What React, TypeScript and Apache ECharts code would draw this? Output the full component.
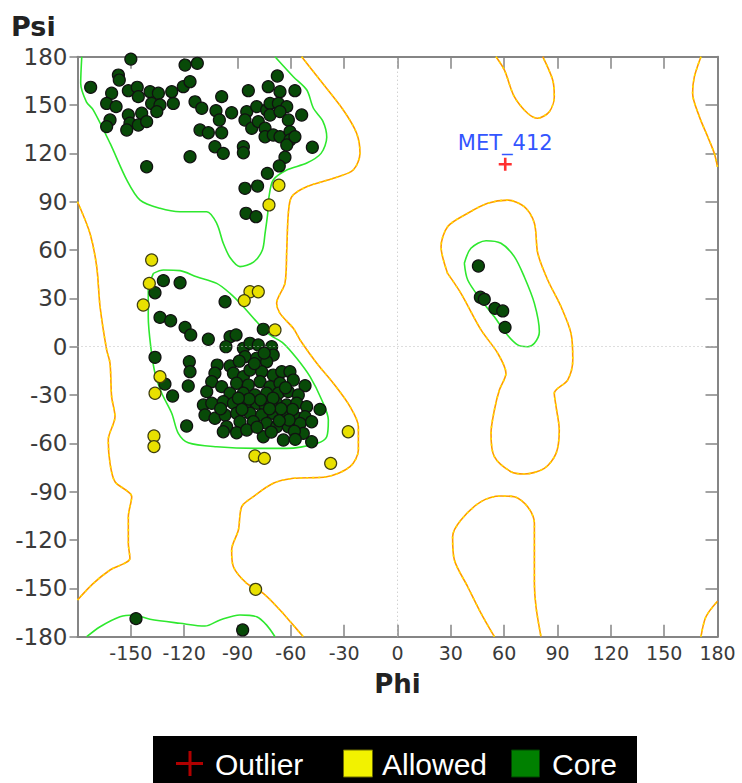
import React, { useEffect, useRef } from "react";
import * as echarts from "echarts";

// ---- Tick values ----
const axisMin = -180;
const axisMax = 180;
const axisStep = 30;

// ---- Residues (phi, psi) ----
const coreResidues: number[][] = [
  [-172.6,161],[-157,168.6],[-156.5,165.5],[-160.8,157.3],[-163.6,151],[-158.3,149],[-161.7,140.7],[-163.6,136.6],
  [-151.4,158.9],[-146.4,161],[-145.8,155.2],[-139.2,158.3],[-134.5,157.3],[-138.3,151],[-133.6,150],[-126.1,151],
  [-127,158.3],[-120.5,161.4],[-116.7,164.5],[-151.4,143.8],[-143.9,144.9],[-150.5,138.7],[-145.8,137.6],[-152.3,134.5],
  [-135.4,145.9],[-141.1,139.7],[-141.1,111.7],[-116.7,117.9],[-119.5,174.8],[-112.6,175.9],[-150,178.5],[-113.9,152],
  [-110.1,148],[-98.9,155.2],[-102.1,146.5],[-100.2,140.7],[-111.1,134.5],[-106.4,132.8],[-98.9,132.8],[-102.7,124.1],
  [-98,120],[-93.3,145.2],[-86.7,124.1],[-86.7,120.4],[-83.9,158.9],[-84.8,145.9],[-85.8,140.7],[-82,135.6],
  [-79.2,149],[-78.3,139.7],[-73.6,146.9],[-72.7,161.4],[-67.6,168],[-66.1,158.3],[-57.7,158.9],[-71.7,151],
  [-67,151],[-62.3,149],[-71.7,143.8],[-66.1,145.9],[-61.4,140.7],[-74.5,135.6],[-74.5,130.3],[-69.9,131.4],
  [-66.1,130.3],[-60.5,133.5],[-60.5,128.3],[-62.3,125.2],[-57.7,130.3],[-53.9,143.8],[-47.9,123.8],[-63.3,117.6],
  [-66.5,112.2],[-73.2,107.6],[-85.8,98.3],[-78.7,99.7],[-85.2,82.8],[-79.6,80.7],
  [-131.7,41],[-122.3,39.7],[-136.4,33.5],[-97,27.9],[-133.6,18.2],[-127.6,16.1],[-119.5,12],[-116.3,7.3],
  [-106.4,4.6],[-75.5,10.8],[-94.2,6.2],[-90.8,7.3],[-96.5,0],[-86.7,-1],[-83,2.1],[-78.3,1.1],[-70.8,0],
  [-69.9,-5.2],[-85.8,-6.2],[-79.2,-7.2],[-73.6,-9.3],[-136.4,-6.6],[-117.1,-9.3],[-116.7,-15.5],[-101.4,-11.4],
  [-94.2,-12],[-130.8,-23.2],[-126.5,-30.6],[-117.7,-24.4],[-118.6,-49.2],[-102.7,-16.5],[-104.5,-21.7],[-107.3,-27.9],
  [-98.9,-24.8],[-92.3,-16.5],[-86.7,-18.6],[-83,-14.5],[-76.4,-15.5],[-69.9,-17.6],[-65.1,-15.5],[-60.5,-15.5],
  [-90.5,-22.7],[-83.9,-23.8],[-77.3,-21.7],[-71.7,-24.8],[-66.1,-22.7],[-58.6,-20.7],[-52,-24.2],[-94.2,-28.9],
  [-86.7,-28.9],[-80.2,-30],[-73.6,-28.9],[-67,-28.9],[-61.4,-27.9],[-55.8,-30],[-109.2,-36.2],[-104.5,-35.1],
  [-98,-34.1],[-92.3,-35.1],[-85.8,-36.2],[-79.2,-35.1],[-74.5,-36.2],[-68,-35.1],[-62.3,-36.2],[-56.7,-35.1],
  [-51.1,-37.2],[-43.6,-38.9],[-108.3,-42.4],[-102.7,-44.4],[-97,-42.4],[-90.5,-41.3],[-83,-41.3],[-76.4,-42.4],
  [-69.9,-41.3],[-64.2,-42.4],[-57.7,-43.4],[-52,-43.4],[-96.1,-49.7],[-88.6,-46.6],[-81.1,-46.6],[-73.6,-47.6],
  [-68,-49.7],[-61.4,-49.7],[-54.8,-47.6],[-48.3,-46.6],[-98,-52.8],[-90.5,-53.4],[-84.8,-51.7],[-75.5,-55.9],
  [-64.2,-57.9],[-48.3,-59],[-53,-53.8],
  [-80.5,-10.5],[-75,-4],[-89,-9],[-63,-25.5],[-70,-32],[-77,-33],[-83.5,-32.5],[-89.5,-32],[-59,-39],[-65.5,-38.5],
  [-72,-38.5],[-87.5,-39],[-99.5,-38.5],[-61,-45.5],[-66.5,-46],[-79,-50],[-71,-53],[-58,-52.5],[-57.5,-57.5],
  [-147.1,-168.8],[-87.1,-175.8],
  [45.5,50.1],[46.6,30.7],[48.8,29.4],[54.8,23.8],[59.2,22.2],[60.5,12]
];

const allowedResidues: number[][] = [
  [-66.7,100.2],[-72.3,88],[-138.3,53.8],[-139.6,39.3],[-143,25.9],[-83,34.1],[-78.3,34.1],[-86.2,28.6],
  [-68.9,10.4],[-133.6,-18.6],[-136.4,-28.9],[-137,-55.4],[-137,-62],[-80.2,-67.8],[-74.9,-69.3],
  [-27.7,-52.8],[-37.6,-72.4],[-79.8,-150.6]
];

const outlierResidues: number[][] = [[60.6, 113.2]];
const outlierNames: string[] = ["MET_412"];

// ---- Contours (phi, psi) ----
const coreBeta: number[][] = [
  [-177.6,180],[-178.2,163.5],[-175,152],[-171.1,146.9],[-161.7,126.3],[-152.3,103.5],[-144.8,91],[-133.6,85.9],
  [-122.3,83.8],[-107.3,83.8],[-101.7,76.6],[-98,64.2],[-94,55],[-88.6,49.7],[-81,52.5],[-76,60],[-74.5,70.4],
  [-73,82.8],[-72.3,93],[-69.9,103.5],[-62.3,109.7],[-51,114],[-43,120],[-39.8,130],[-42,140],[-47.3,148],
  [-51,159.3],[-58.6,167.6],[-68.9,180]
];
const coreAlpha: number[][] = [
  [-137.3,45.5],[-131.7,47.6],[-122.3,47.2],[-113,43.4],[-101.7,39.3],[-94.2,33.1],[-87.6,25.9],[-79.2,15.5],
  [-71.7,7.3],[-64.2,2.1],[-56.7,-7.2],[-49.2,-18.6],[-42.6,-33.1],[-38.9,-45.5],[-39.8,-55.9],[-45.4,-60],
  [-62.3,-63.1],[-79.2,-63.1],[-101.7,-62.1],[-117.7,-59.6],[-123.3,-53.8],[-127,-41.3],[-132.6,-28.9],
  [-136.4,-16.5],[-138.8,0],[-140.2,18.6],[-140.2,35.2],[-137.3,45.5]
];
const coreBottom: number[][] = [
  [-174.8,-180],[-167.3,-173.8],[-156.1,-167.6],[-148.6,-166.5],[-139.2,-169.2],[-122.3,-171.7],[-108.3,-173.4],
  [-99.8,-169.6],[-88.6,-166.5],[-79.2,-167.6],[-73.6,-172.8],[-68.9,-180]
];
const coreLeftHanded: number[][] = [
  [37.6,51.8],[41.3,61.1],[49.8,65.8],[58.2,64.2],[65.7,55.9],[71.3,43.4],[77,26.9],[79.8,9.3],[77,2.1],
  [73.2,0],[67.6,1.1],[61,8.3],[54.5,18.6],[47,29],[39.5,41.4],[37.6,51.8]
];
const allowedMainRight: number[][] = [
  [-53.9,180],[-43.6,165.5],[-30.5,146.9],[-23,132.5],[-21.1,120],[-24.9,109.7],[-36.1,104.5],[-51.1,99.3],
  [-59.5,93.1],[-61.4,82.8],[-62.3,60],[-63.3,39.4],[-68,26.9],[-66.1,20.7],[-58.6,11.4],[-54.8,4.2],[-45.4,-10.3],
  [-36.1,-22.7],[-26.7,-37.2],[-22,-49.7],[-22,-64.1],[-26.7,-74.5],[-39.8,-80.7],[-58.6,-81.7],[-69.9,-84.8],
  [-81.1,-93.1],[-87.6,-99.3],[-89.5,-113.8],[-93.3,-126.2],[-92.3,-136.6],[-84.8,-146.9],[-75.5,-153.1],
  [-66.1,-163.4],[-59.5,-171.7],[-53,-180]
];
const allowedMainLeft: number[][] = [
  [-180,90],[-173,70.4],[-169.2,49.7],[-167.3,24.8],[-163.6,-2],[-161.7,-10.3],[-160.8,-31],[-158.9,-43.4],
  [-162.7,-57.9],[-161.7,-72.4],[-158.9,-83.8],[-149.5,-93.1],[-151.4,-105.5],[-151.4,-122],[-150.5,-131.3],
  [-161.7,-138.6],[-171.1,-146.9],[-180,-157.2]
];
const allowedTopCenter: number[][] = [
  [55.4,180],[60.1,171.8],[65.7,155.2],[73.2,144.9],[78.9,141.8],[85.4,145.9],[88.2,155.2],[87.3,165.5],[81.7,180]
];
const allowedTopRight: number[][] = [
  [170.7,180],[167,167.6],[166,157.3],[169.8,142.8],[174.5,130.3],[178.2,120],[180,111.7]
];
const allowedLeftHanded: number[][] = [
  [28.2,45.5],[24.5,62.1],[28.2,74.5],[39.5,82.8],[50.7,89],[62,91],[71.3,86.9],[77,76.6],[78.9,58],[84.5,41.4],
  [92,24.8],[97.6,8.3],[98.6,-8.3],[95.7,-20.7],[88.2,-28.9],[89.2,-37.2],[91,-51.7],[89.2,-66.2],[82.6,-75.5],
  [71.3,-79],[63.8,-77.6],[54.5,-68.3],[52.6,-53.8],[54.5,-39.3],[57.3,-26.9],[61,-16.5],[56.4,-4.1],[47,10.4],
  [35.7,33.1],[28.2,45.5]
];
const allowedBottomCenter: number[][] = [
  [54.5,-180],[47,-165.5],[39.5,-149],[32,-132.4],[31,-117.9],[35.7,-107.6],[47,-96.2],[58.2,-92.7],[65.7,-93.1],
  [73.2,-99.3],[77,-109.6],[77,-130.3],[77,-146.9],[77.9,-161.4],[80.7,-180]
];
const allowedBottomRight: number[][] = [[170.7,-180],[173.5,-167.6],[180,-158]];

const legendLabels = ["Outlier", "Allowed", "Core"];

const coreContours = [coreBeta, coreAlpha, coreBottom, coreLeftHanded];
const allowedContours = [allowedMainRight, allowedMainLeft, allowedTopCenter, allowedTopRight,
  allowedLeftHanded, allowedBottomCenter, allowedBottomRight];

export default function App() {
  const ref = useRef<HTMLDivElement>(null);
  useEffect(() => {
    if (!ref.current) return;
    const chart = echarts.init(ref.current, undefined, { renderer: "svg" });
    const axisGray = "#858585";
    const labelColor = "#3a3a3a";
    const series: any[] = [];
    series.push({
      type: "line", data: [], z: 1, silent: true,
      markLine: {
        silent: true, symbol: ["none", "none"], label: { show: false }, animation: false,
        lineStyle: { type: [1, 3], color: "#bdbdbd", width: 1 },
        data: [{ xAxis: 0 }, { yAxis: 0 }],
      },
    });
    allowedContours.forEach((c) => {
      series.push({
        type: "line", data: c, showSymbol: false, symbol: "none", smooth: 0.3, z: 2, silent: true,
        lineStyle: { color: "#ff9a00", width: 1.6 },
      });
      series.push({
        type: "line", data: c, showSymbol: false, symbol: "none", smooth: 0.3, z: 2, silent: true,
        lineStyle: { color: "#ffe000", width: 1.6, type: [2, 4] },
      });
    });
    coreContours.forEach((c) => {
      series.push({
        type: "line", data: c, showSymbol: false, symbol: "none", smooth: 0.3, z: 2, silent: true,
        lineStyle: { color: "#2ee82e", width: 1.6 },
      });
    });
    series.push({
      name: "Core", type: "scatter", data: coreResidues, symbolSize: 12, z: 3,
      itemStyle: { color: "#084a08", borderColor: "#111", borderWidth: 1.2, opacity: 1 },
    });
    series.push({
      name: "Allowed", type: "scatter", data: allowedResidues, symbolSize: 12, z: 3,
      itemStyle: { color: "#e8e000", borderColor: "#3e3e10", borderWidth: 1.2, opacity: 1 },
    });
    series.push({
      name: "Outlier", type: "scatter",
      data: outlierResidues.map((v, i) => ({ value: v, name: outlierNames[i] })),
      symbol: "path://M4,0h2v4h4v2h-4v4h-2v-4h-4v-2h4z", symbolSize: 13, z: 4,
      itemStyle: { color: "#ff3030", opacity: 1 },
      label: {
        show: true, position: "top", distance: 4, formatter: (p: any) => p.name,
        color: "#3355ff", fontSize: 21, fontFamily: "DejaVu Sans",
      },
    });

    const baseAxis = { type: "value", min: axisMin, max: axisMax, interval: axisStep, splitLine: { show: false } };
    const line = { show: true, onZero: false, lineStyle: { color: axisGray, width: 2 } };
    chart.setOption({
      animation: false,
      backgroundColor: "#ffffff",
      grid: { left: 77.5, right: 24.5, top: 56.7, bottom: 146.3, containLabel: false },
      xAxis: [
        {
          ...baseAxis, position: "bottom", axisLine: line,
          axisTick: { show: true, inside: true, length: 12, lineStyle: { color: axisGray, width: 1.5 } },
          axisLabel: { showMinLabel: false, fontSize: 19, color: labelColor, fontFamily: "DejaVu Sans", margin: 7 },
          name: "Phi", nameLocation: "middle", nameGap: 34,
          nameTextStyle: { fontSize: 26, fontWeight: "bold", fontFamily: "DejaVu Sans", color: "#222" },
        },
        {
          ...baseAxis, position: "top", axisLine: line,
          axisTick: { show: true, inside: true, length: 12, lineStyle: { color: axisGray, width: 1.5 } },
          axisLabel: { show: false },
        },
      ],
      yAxis: [
        {
          ...baseAxis, position: "left", axisLine: line,
          axisTick: { show: true, inside: false, length: 8, lineStyle: { color: axisGray, width: 1.5 } },
          axisLabel: { fontSize: 23, color: labelColor, fontFamily: "DejaVu Sans", margin: 10 },
        },
        {
          ...baseAxis, position: "right", axisLine: line,
          axisTick: { show: true, inside: true, length: 12, lineStyle: { color: axisGray, width: 1.5 } },
          axisLabel: { show: false },
        },
      ],
      series,
      graphic: [
        {
          type: "text", left: 11, top: 13,
          style: { text: "Psi", fontSize: 27, fontWeight: "bold", fontFamily: "DejaVu Sans", fill: "#222" },
        },
        { type: "rect", shape: { x: 153, y: 736, width: 484, height: 47 }, style: { fill: "#000" } },
        { type: "rect", shape: { x: 176, y: 762, width: 27, height: 3 }, style: { fill: "#b00000" } },
        { type: "rect", shape: { x: 188.5, y: 751, width: 3, height: 25 }, style: { fill: "#b00000" } },
        {
          type: "text", x: 215, y: 764,
          style: { text: legendLabels[0], fontSize: 30, fontFamily: "Liberation Sans", fill: "#fff",
            align: "left", verticalAlign: "middle" },
        },
        { type: "rect", shape: { x: 343.5, y: 750, width: 29, height: 27 },
          style: { fill: "#f2f200", stroke: "#6b6b00", lineWidth: 1 } },
        {
          type: "text", x: 382, y: 764,
          style: { text: legendLabels[1], fontSize: 30, fontFamily: "Liberation Sans", fill: "#fff",
            align: "left", verticalAlign: "middle" },
        },
        { type: "rect", shape: { x: 511.5, y: 750, width: 28, height: 27 },
          style: { fill: "#008000", stroke: "#004000", lineWidth: 1 } },
        {
          type: "text", x: 552, y: 764,
          style: { text: legendLabels[2], fontSize: 30, fontFamily: "Liberation Sans", fill: "#fff",
            align: "left", verticalAlign: "middle" },
        },
      ],
    });
    return () => chart.dispose();
  }, []);
  return (
    <div
      ref={ref}
      style={{ position: "fixed", left: 0, top: 0, width: 742, height: 783, background: "#fff" }}
    />
  );
}
